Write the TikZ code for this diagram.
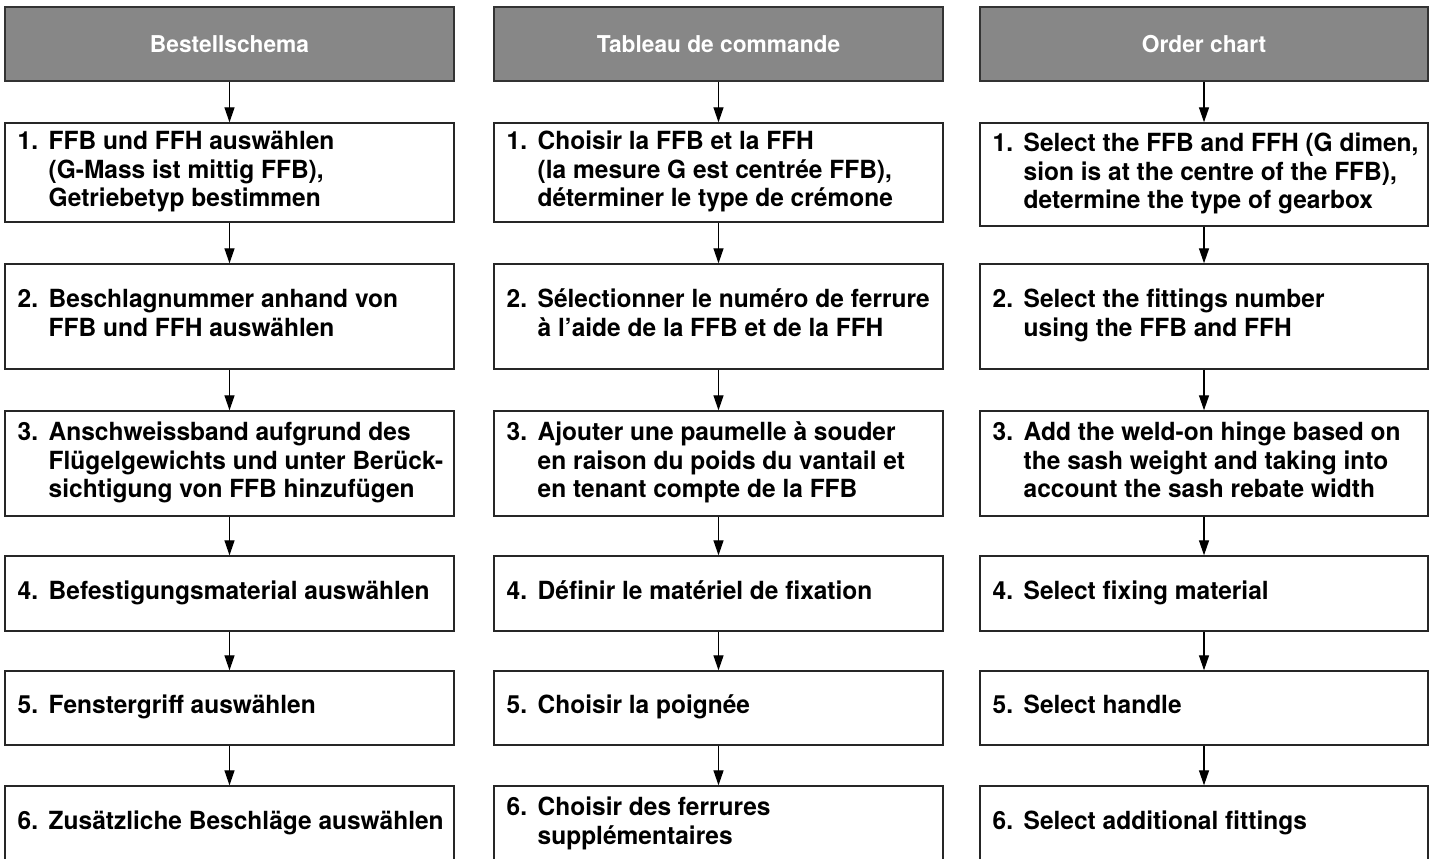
\documentclass[tikz,border=0pt]{standalone}
\usepackage{fontspec}
\setmainfont{TeX Gyre Heros}[FakeStretch=0.98]
\usetikzlibrary{arrows.meta,fit}
\newcommand\nt[2]{\begin{tabular}{@{}l@{}l@{}}\makebox[15.5pt][l]{#1}&#2\end{tabular}}
\newcommand\mkbox[6]{%
  \node[boxst, fit={(#2,#3) (#4,#5)}] (#1) {};
  \node[txt, anchor=west] (#1t) at ([xshift=6.5pt]#1.west) {#6};}
\newcommand\mkhead[6]{%
  \node[headst, fit={(#2,#3) (#4,#5)}] (#1) {};
  \node[headtxt] (#1t) at (#1.center) {#6};}
\begin{document}
\begin{tikzpicture}[x=0.5pt,y=-0.5pt,
  boxst/.style={draw=black!85, line width=0.7pt, fill=white, inner sep=0pt},
  headst/.style={draw=black!80, line width=0.7pt, fill=black!47, inner sep=0pt},
  txt/.style={inner sep=0pt, font=\fontsize{12.5}{14.3}\selectfont\bfseries, align=left},
  headtxt/.style={inner sep=0pt, text=white, font=\fontsize{11.6}{13}\selectfont\bfseries},
  arr/.style={line width=0.65pt, draw=black, -{Triangle[length=7.5pt,width=5pt]}, shorten <=0pt}]
\useasboundingbox (0,0) rectangle (1434,858);
\clip (0,0) rectangle (1434,858);
\fill[white] (0,0) rectangle (1434,858);
% column 1
\mkhead{ha}{5}{7}{454}{81}{Bestellschema}
\mkbox{a1}{5}{123}{454}{222}{\nt{1.}{FFB und FFH auswählen\\ &(G-Mass ist mittig FFB),\\ &Getriebetyp bestimmen}}
\mkbox{a2}{5}{264}{454}{369}{\nt{2.}{Beschlagnummer anhand von\\ &FFB und FFH auswählen}}
\mkbox{a3}{5}{411}{454}{516}{\nt{3.}{Anschweissband aufgrund des\\ &Flügelgewichts und unter Berück-\\ &sichtigung von FFB hinzufügen}}
\mkbox{a4}{5}{556}{454}{631}{\nt{4.}{Befestigungsmaterial auswählen}}
\mkbox{a5}{5}{671}{454}{745}{\nt{5.}{Fenstergriff auswählen}}
\mkbox{a6}{5}{786}{454}{862}{\nt{6.}{Zusätzliche Beschläge auswählen}}
% column 2
\mkhead{hb}{494}{7}{943}{81}{Tableau de commande}
\mkbox{b1}{494}{123}{943}{222}{\nt{1.}{Choisir la FFB et la FFH\\ &(la mesure G est centrée FFB),\\ &déterminer le type de crémone}}
\mkbox{b2}{494}{264}{943}{369}{\nt{2.}{Sélectionner le numéro de ferrure\\ &à l'aide de la FFB et de la FFH}}
\mkbox{b3}{494}{411}{943}{516}{\nt{3.}{Ajouter une paumelle à souder\\ &en raison du poids du vantail et\\ &en tenant compte de la FFB}}
\mkbox{b4}{494}{556}{943}{631}{\nt{4.}{Définir le matériel de fixation}}
\mkbox{b5}{494}{671}{943}{745}{\nt{5.}{Choisir la poignée}}
\mkbox{b6}{494}{786}{943}{862}{\nt{6.}{Choisir des ferrures\\ &supplémentaires}}
% column 3
\mkhead{hc}{980}{7}{1428}{81}{Order chart}
\mkbox{c1}{980}{123}{1428}{226}{\nt{1.}{Select the FFB and FFH (G dimen,\\ &sion is at the centre of the FFB),\\ &determine the type of gearbox}}
\mkbox{c2}{980}{264}{1428}{369}{\nt{2.}{Select the fittings number\\ &using the FFB and FFH}}
\mkbox{c3}{980}{411}{1428}{516}{\nt{3.}{Add the weld-on hinge based on\\ &the sash weight and taking into\\ &account the sash rebate width}}
\mkbox{c4}{980}{556}{1428}{631}{\nt{4.}{Select fixing material}}
\mkbox{c5}{980}{671}{1428}{745}{\nt{5.}{Select handle}}
\mkbox{c6}{980}{786}{1428}{862}{\nt{6.}{Select additional fittings}}
% arrows
\foreach \c in {a,b,c}{
  \draw[arr] (h\c.south) -- (\c1.north);
  \draw[arr] (\c1.south) -- (\c2.north);
  \draw[arr] (\c2.south) -- (\c3.north);
  \draw[arr] (\c3.south) -- (\c4.north);
  \draw[arr] (\c4.south) -- (\c5.north);
  \draw[arr] (\c5.south) -- (\c6.north);
}
\end{tikzpicture}
\end{document}
